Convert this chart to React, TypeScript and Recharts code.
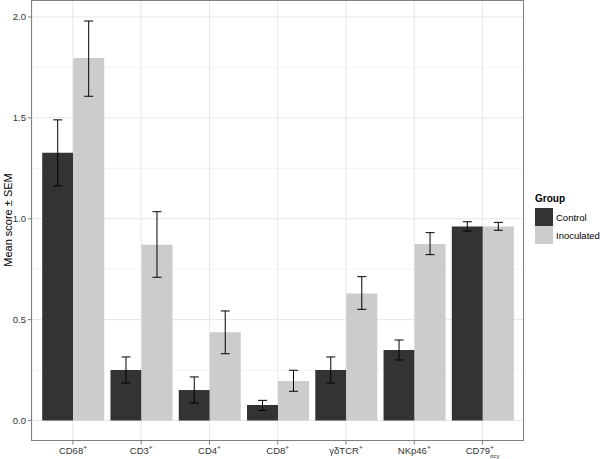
import {
  ComposedChart,
  Bar,
  XAxis,
  YAxis,
  CartesianGrid,
  ErrorBar,
} from "recharts";

const categories = ["CD68", "CD3", "CD4", "CD8", "γδTCR", "NKp46", "CD79"];
const subscripts = ["", "", "", "", "", "", "αcy"];

const controlMean = [1.327, 0.25, 0.151, 0.077, 0.25, 0.349, 0.962];
const controlLow = [1.163, 0.186, 0.087, 0.05, 0.186, 0.3, 0.939];
const controlHigh = [1.49, 0.315, 0.216, 0.1, 0.315, 0.399, 0.985];

const inoculatedMean = [1.797, 0.871, 0.437, 0.196, 0.63, 0.875, 0.962];
const inoculatedLow = [1.607, 0.71, 0.331, 0.145, 0.551, 0.822, 0.943];
const inoculatedHigh = [1.98, 1.035, 0.543, 0.249, 0.713, 0.931, 0.982];

const yTicks = [0, 0.5, 1, 1.5, 2];
const yMinor = [0.25, 0.75, 1.25, 1.75];

const groups = [
  { key: "control", name: "Control", color: "#333333" },
  { key: "inoculated", name: "Inoculated", color: "#cccccc" },
];

const data = categories.map((name, i) => ({
  name,
  control: controlMean[i],
  controlErr: [controlMean[i] - controlLow[i], controlHigh[i] - controlMean[i]],
  inoculated: inoculatedMean[i],
  inoculatedErr: [
    inoculatedMean[i] - inoculatedLow[i],
    inoculatedHigh[i] - inoculatedMean[i],
  ],
}));

const FONT = '"Liberation Sans", Arial, Helvetica, sans-serif';

// category label with a "+" superscript (and a subscript for CD79)
function CategoryTick(props: any) {
  const { x, y, payload, index } = props;
  const sub = subscripts[index] ?? "";
  return (
    <text
      x={x}
      y={y}
      dy="0.71em"
      textAnchor="middle"
      fontSize={9.5}
      fill="#333"
      fontFamily={FONT}
    >
      <tspan>{payload.value}</tspan>
      <tspan dy={-4} fontSize={6.5}>
        +
      </tspan>
      {sub && (
        <tspan dx={-3.8} dy={7.5} fontSize={6}>
          {sub}
        </tspan>
      )}
    </text>
  );
}

export default function App() {
  return (
    <div
      style={{
        position: "absolute",
        left: 0,
        top: 0,
        width: 600,
        height: 459,
        background: "#fff",
        fontFamily: FONT,
      }}
    >
      <ComposedChart
        width={600}
        height={459}
        data={data}
        margin={{ top: 0, right: 76.5, bottom: 0, left: 0 }}
        barCategoryGap={3.4}
        barGap={0}
      >
        <CartesianGrid
          stroke="#f3f3f3"
          vertical={false}
          horizontalValues={yMinor}
        />
        <CartesianGrid stroke="#e6e6e6" horizontalValues={yTicks} />
        <XAxis
          dataKey="name"
          interval={0}
          height={18.5}
          axisLine={false}
          tickSize={4}
          tickMargin={3}
          tickLine={{ stroke: "#7f7f7f" }}
          padding={{ left: 6.8, right: 6.8 }}
          tick={<CategoryTick />}
        />
        <YAxis
          type="number"
          domain={[-0.099, 2.084]}
          ticks={yTicks}
          tickFormatter={(v: number) => v.toFixed(1)}
          width={32}
          axisLine={false}
          tickSize={4}
          tickMargin={2}
          tickLine={{ stroke: "#7f7f7f" }}
          tick={{ fontSize: 9.5, fill: "#333", fontFamily: FONT }}
          label={{
            content: () => (
              <text
                x={12}
                y={220}
                transform="rotate(-90 12 220)"
                textAnchor="middle"
                fontSize={11}
                fill="#000"
                fontFamily={FONT}
              >
                Mean score ± SEM
              </text>
            ),
          }}
        />
        {groups.map((g) => (
          <Bar
            key={g.key}
            dataKey={g.key}
            name={g.name}
            fill={g.color}
            isAnimationActive={false}
          >
            <ErrorBar
              dataKey={g.key + "Err"}
              width={4.5}
              stroke="#000"
              strokeWidth={1}
              direction="y"
            />
          </Bar>
        ))}
      </ComposedChart>
      <div
        style={{
          position: "absolute",
          left: 31,
          top: 0,
          width: 493,
          height: 441,
          border: "1px solid #7f7f7f",
          boxSizing: "border-box",
          pointerEvents: "none",
        }}
      />
      <div style={{ position: "absolute", left: 535, top: 193 }}>
        <div style={{ fontSize: 10, fontWeight: "bold", lineHeight: "12px", marginBottom: 3 }}>
          Group
        </div>
        {groups.map((g) => (
          <div
            key={g.key}
            style={{ display: "flex", alignItems: "center", height: 18 }}
          >
            <div style={{ width: 18, height: 18, background: g.color }} />
            <span style={{ fontSize: 9.5, marginLeft: 3 }}>{g.name}</span>
          </div>
        ))}
      </div>
    </div>
  );
}
